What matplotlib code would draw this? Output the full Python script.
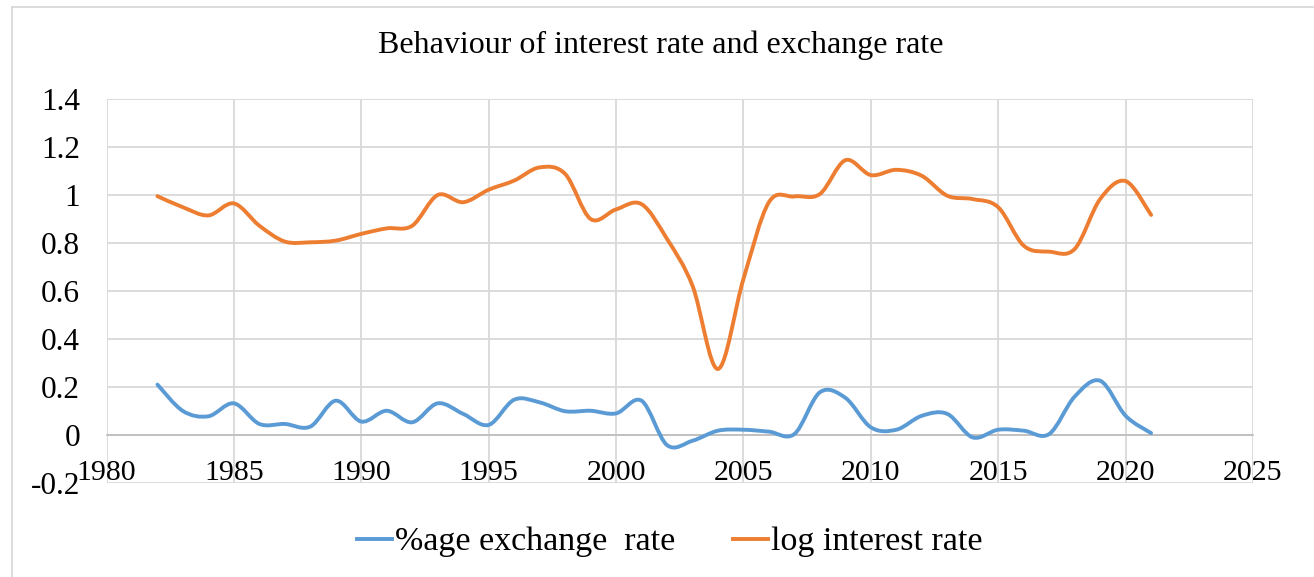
import matplotlib
matplotlib.use("Agg")
import matplotlib.pyplot as plt
from matplotlib.path import Path
from matplotlib.patches import PathPatch
from matplotlib.lines import Line2D
import numpy as np

years = list(range(1982, 2022))
exchange_rate = [0.21, 0.10, 0.078, 0.132, 0.046, 0.046, 0.035, 0.143, 0.056, 0.101,
                 0.053, 0.132, 0.088, 0.042, 0.147, 0.136, 0.099, 0.101, 0.090, 0.143,
                 -0.042, -0.024, 0.018, 0.022, 0.014, 0.004, 0.178, 0.155, 0.032, 0.022,
                 0.080, 0.088, -0.010, 0.022, 0.018, 0.004, 0.160, 0.226, 0.080, 0.008]
interest_rate = [0.995, 0.949, 0.915, 0.965, 0.872, 0.806, 0.803, 0.810, 0.838, 0.861,
                 0.872, 1.000, 0.970, 1.022, 1.060, 1.115, 1.088, 0.900, 0.940, 0.962,
                 0.817, 0.622, 0.275, 0.650, 0.970, 0.994, 1.004, 1.145, 1.083, 1.105,
                 1.080, 0.997, 0.983, 0.949, 0.789, 0.764, 0.775, 0.983, 1.058, 0.917]

series_names = ["%age exchange  rate", "log interest rate"]
colors = ["#5B9BD5", "#ED7D31"]
x_ticks = list(range(1980, 2030, 5))
y_ticks = [-0.2, 0, 0.2, 0.4, 0.6, 0.8, 1, 1.2, 1.4]
y_tick_labels = ["-0.2", "0", "0.2", "0.4", "0.6", "0.8", "1", "1.2", "1.4"]
title = "Behaviour of interest rate and exchange rate"

FONT = "Liberation Serif"
FS_X = 21.5
FS_Y = 22.5
FS_T = 23
FS_L = 24.5


def smooth_path(xs, ys):
    """Excel-like smoothed line: cubic Bezier through every data point."""
    pts = np.column_stack([xs, ys]).astype(float)
    n = len(pts)
    verts = [pts[0]]
    codes = [Path.MOVETO]
    for i in range(n - 1):
        p0 = pts[i - 1] if i > 0 else pts[i]
        p1 = pts[i]
        p2 = pts[i + 1]
        p3 = pts[i + 2] if i + 2 < n else pts[i + 1]
        c1 = p1 + (p2 - p0) / 6.0
        c2 = p2 - (p3 - p1) / 6.0
        verts += [c1, c2, p2]
        codes += [Path.CURVE4] * 3
    return Path(verts, codes)


fig = plt.figure(figsize=(13.14, 5.77), dpi=100)
W, H = 1314, 577
left, right, top, bottom = 106.5, 1253, 99, 483
ax = fig.add_axes([left / W, 1 - bottom / H, (right - left) / W, (bottom - top) / H])

ax.set_xlim(1980, 2025)
ax.set_ylim(-0.2, 1.4)
ax.set_xticks(x_ticks)
ax.set_yticks(y_ticks)
ax.set_yticklabels(y_tick_labels)
ax.grid(True, color="#d9d9d9", linewidth=1.3)
ax.set_axisbelow(True)
for s in ["top", "right", "left"]:
    ax.spines[s].set_visible(False)
ax.spines["bottom"].set_position(("data", 0))
ax.spines["bottom"].set_color("#bfbfbf")
ax.spines["bottom"].set_linewidth(1.3)
ax.tick_params(axis="both", length=0)
ax.tick_params(axis="x", pad=18, labelsize=FS_X)
ax.tick_params(axis="y", pad=19, labelsize=FS_Y)
for lab in ax.get_xticklabels() + ax.get_yticklabels():
    lab.set_fontfamily(FONT)

for vals, c in zip([exchange_rate, interest_rate], colors):
    patch = PathPatch(smooth_path(years, vals), facecolor="none", edgecolor=c,
                      linewidth=2.8, capstyle="round", joinstyle="round", zorder=3)
    ax.add_patch(patch)

em = FS_L * 100 / 72.0
handles = [Line2D([], [], color=c, linewidth=2.8) for c in colors]
fig.legend(handles, series_names, loc="center left",
           bbox_to_anchor=((340 - 0.4 * em) / W, 1 - 542 / H),
           ncol=2, frameon=False, handlelength=35 / em, handletextpad=0.1,
           columnspacing=57 / em, borderpad=0.4, prop={"family": FONT, "size": FS_L})

fig.text(0.503, 1 - 45 / H, title, ha="center", va="center", fontfamily=FONT, fontsize=FS_T)

# outer chart border
fig.add_artist(Line2D([12 / W, 1], [1 - 6.5 / H, 1 - 6.5 / H], transform=fig.transFigure,
                      color="#d9d9d9", linewidth=1.3))
fig.add_artist(Line2D([12 / W, 12 / W], [0, 1 - 6.5 / H], transform=fig.transFigure,
                      color="#d9d9d9", linewidth=1.3))

fig.savefig("out.png", dpi=100)
